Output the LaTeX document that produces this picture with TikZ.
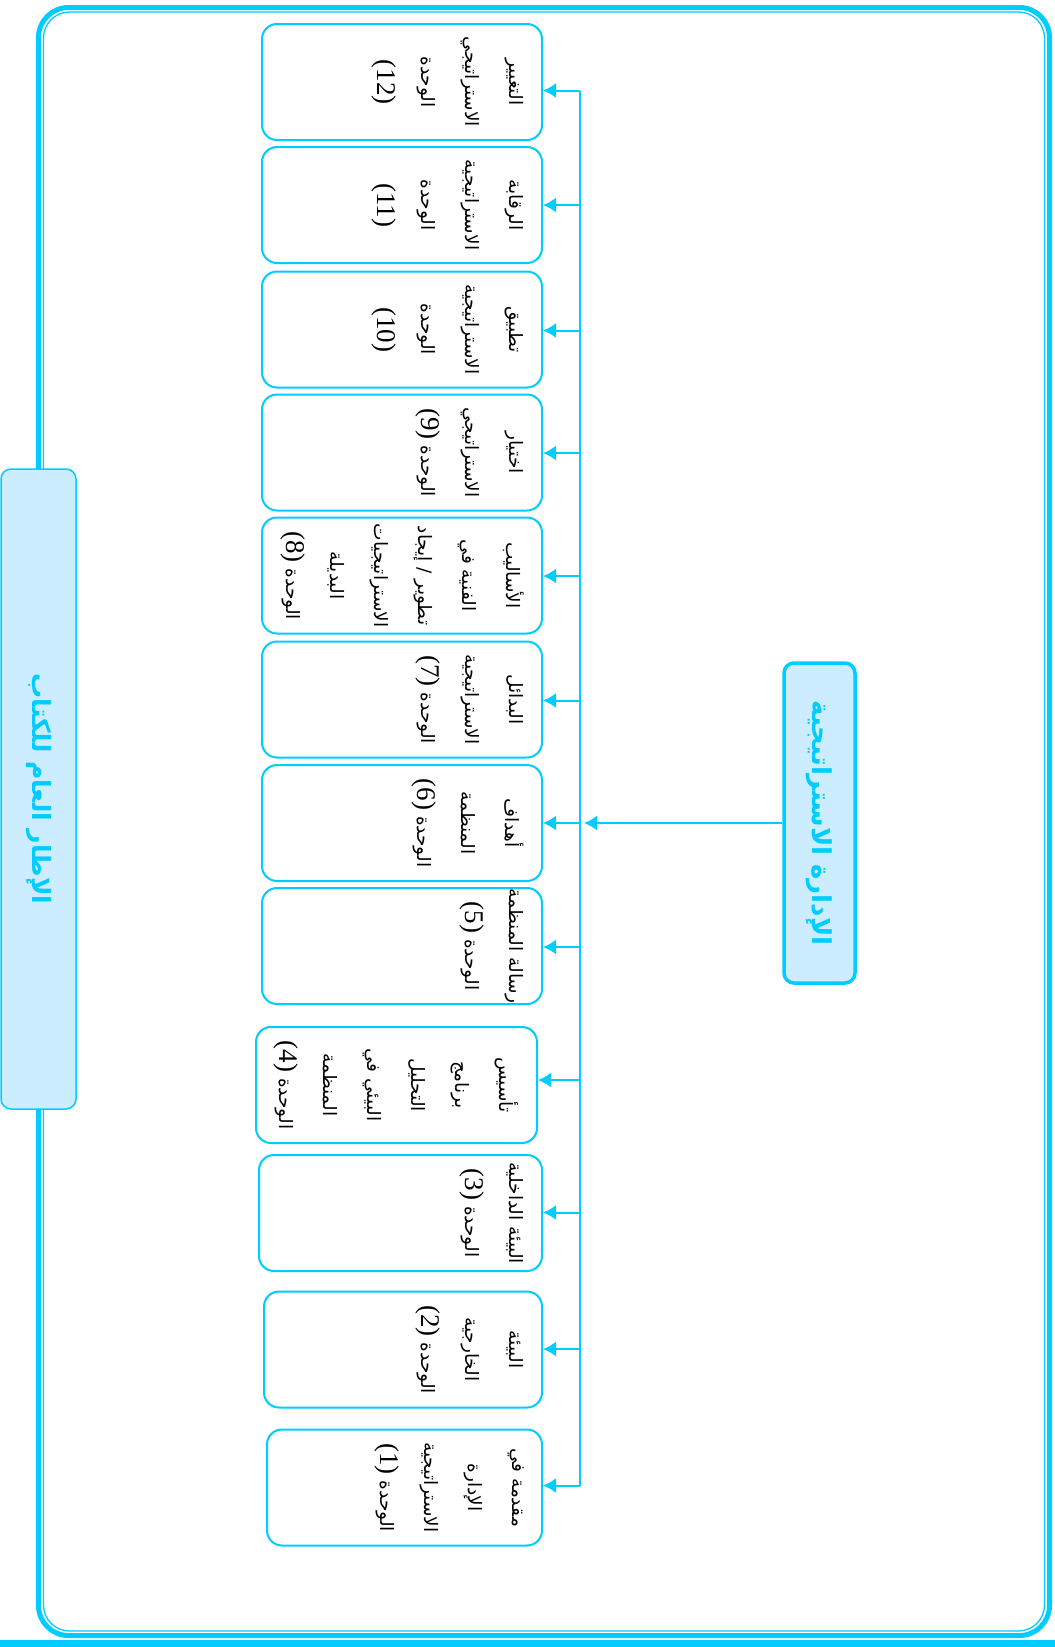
\documentclass[tikz,border=0pt]{standalone}
\usepackage{fontspec}
\usepackage{tikz}
\usetikzlibrary{arrows.meta, positioning}
\TeXXeTstate=1
\newfontfamily\arabicfont[Script=Arabic]{DejaVu Sans}
\newfontfamily\latinfont{Liberation Serif}
\definecolor{FrameCyan}{RGB}{0, 204, 255}
\definecolor{BoxLight}{RGB}{204, 236, 255}
\newcommand{\arline}[1]{\beginR #1\endR}
\newcommand{\unitno}[1]{\beginL{\latinfont\fontsize{27}{44}\selectfont(#1)}\endL}

\begin{document}
\begin{tikzpicture}[
    x=1pt, y=-1pt,
    unit/.style={rectangle, draw=FrameCyan, line width=2pt, rounded corners=15pt, fill=white, minimum width=116pt, minimum height=280pt, rotate=-90, inner sep=0pt},
    utext/.style={rotate=-90, anchor=north, align=center, inner sep=0pt, font=\arabicfont\fontsize{18.5}{44}\selectfont},
    title/.style={rectangle, draw=FrameCyan, rounded corners=10pt, fill=BoxLight, text=FrameCyan, rotate=-90, align=center},
    link/.style={draw=FrameCyan, line width=2pt},
    arr/.style={link, -{Latex[length=13pt, width=15pt]}}
]
\useasboundingbox (0,0) rectangle (1055,1647);

% outer frame
\draw[FrameCyan, line width=5pt, rounded corners=30pt] (38.5,7.5) rectangle (1049.5,1635.5);
\draw[FrameCyan, line width=1.3pt, rounded corners=26pt] (43.5,12) rectangle (1044.5,1631);
\fill[FrameCyan] (0,1640) rectangle (1055,1647);

\node[title, line width=1.5pt, minimum width=640pt, minimum height=75pt, font=\arabicfont\bfseries\fontsize{25}{30}\selectfont] (book) at (38.5,789) {\arline{الإطار العام للكتاب}};
\node[title, line width=3.5pt, minimum width=320pt, minimum height=71pt, font=\arabicfont\bfseries\fontsize{26}{30}\selectfont] (mgmt) at (819.5,823) {\arline{الإدارة الاستراتيجية}};

% units
\node[unit] (u12) at (402,82) {};
\node[unit] (u11) at (402,205) {};
\node[unit] (u10) at (402,329.5) {};
\node[unit] (u9) at (402,452.5) {};
\node[unit] (u8) at (402,575.5) {};
\node[unit] (u7) at (402,699.5) {};
\node[unit] (u6) at (402,823) {};
\node[unit] (u5) at (402,946) {};
\node[unit, minimum height=281pt] (u4) at (396.5,1085) {};
\node[unit, minimum height=283pt] (u3) at (400.5,1213) {};
\node[unit, minimum height=278pt] (u2) at (403,1349.5) {};
\node[unit, minimum height=275pt] (u1) at (404.5,1487.5) {};

\node[utext] (t12) at ([xshift=-19pt]u12.north) {\arline{التغيير}\\\arline{الاستراتيجي}\\\arline{الوحدة}\\\unitno{12}};
\node[utext] (t11) at ([xshift=-19pt]u11.north) {\arline{الرقابة}\\\arline{الاستراتيجية}\\\arline{الوحدة}\\\unitno{11}};
\node[utext] (t10) at ([xshift=-19pt]u10.north) {\arline{تطبيق}\\\arline{الاستراتيجية}\\\arline{الوحدة}\\\unitno{10}};
\node[utext] (t9) at ([xshift=-19pt]u9.north) {\arline{اختيار}\\\arline{الاستراتيجي}\\\arline{الوحدة \unitno{9}}};
\node[utext] (t8) at ([xshift=-19pt]u8.north) {\arline{الأساليب}\\\arline{الفنية في}\\\arline{تطوير / إيجاد}\\\arline{الاستراتيجيات}\\\arline{البديلة}\\\arline{الوحدة \unitno{8}}};
\node[utext] (t7) at ([xshift=-19pt]u7.north) {\arline{البدائل}\\\arline{الاستراتيجية}\\\arline{الوحدة \unitno{7}}};
\node[utext] (t6) at ([xshift=-19pt]u6.north) {\arline{أهداف}\\\arline{المنظمة}\\\arline{الوحدة \unitno{6}}};
\node[utext] (t5) at ([xshift=-19pt]u5.north) {\arline{رسالة المنظمة}\\\arline{الوحدة \unitno{5}}};
\node[utext] (t4) at ([xshift=-19pt]u4.north) {\arline{تأسيس}\\\arline{برنامج}\\\arline{التحليل}\\\arline{البيئي في}\\\arline{المنظمة}\\\arline{الوحدة \unitno{4}}};
\node[utext] (t3) at ([xshift=-19pt]u3.north) {\arline{البيئة الداخلية}\\\arline{الوحدة \unitno{3}}};
\node[utext] (t2) at ([xshift=-19pt]u2.north) {\arline{البيئة}\\\arline{الخارجية}\\\arline{الوحدة \unitno{2}}};
\node[utext] (t1) at ([xshift=-19pt]u1.north) {\arline{مقدمة في}\\\arline{الإدارة}\\\arline{الاستراتيجية}\\\arline{الوحدة \unitno{1}}};

% spine and branches
\coordinate (s12) at (580,90.5);
\coordinate (s11) at (580,205);
\coordinate (s10) at (580,330.5);
\coordinate (s9) at (580,453);
\coordinate (s8) at (580,576);
\coordinate (s7) at (580,700.5);
\coordinate (s6) at (580,823);
\coordinate (s5) at (580,947);
\coordinate (s4) at (580,1080);
\coordinate (s3) at (580,1212.5);
\coordinate (s2) at (580,1349);
\coordinate (s1) at (580,1485.5);
\coordinate (hub) at (584,823);

\draw[link] (s12) -- (s1);
\draw[arr] (mgmt.south) -- (hub);

\draw[arr] (s12) -- (s12 -| u12.north);
\draw[arr] (s11) -- (s11 -| u11.north);
\draw[arr] (s10) -- (s10 -| u10.north);
\draw[arr] (s9) -- (s9 -| u9.north);
\draw[arr] (s8) -- (s8 -| u8.north);
\draw[arr] (s7) -- (s7 -| u7.north);
\draw[arr] (s6) -- (s6 -| u6.north);
\draw[arr] (s5) -- (s5 -| u5.north);
\draw[arr] (s4) -- (s4 -| u4.north);
\draw[arr] (s3) -- (s3 -| u3.north);
\draw[arr] (s2) -- (s2 -| u2.north);
\draw[arr] (s1) -- (s1 -| u1.north);

\end{tikzpicture}
\end{document}
